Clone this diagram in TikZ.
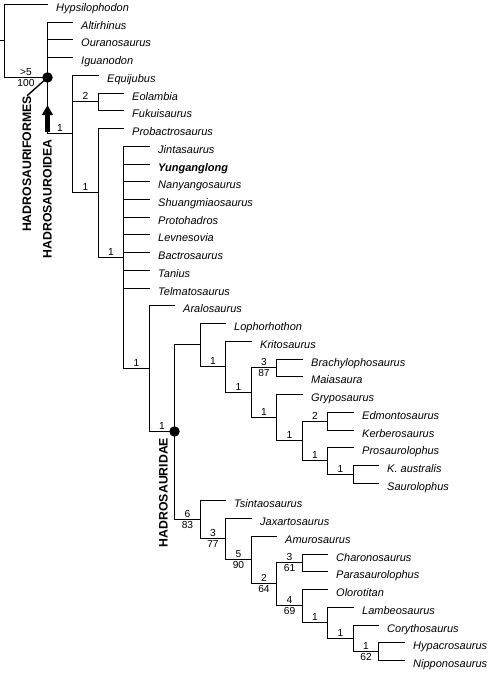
\documentclass[tikz,border=0pt]{standalone}
\usepackage{fontspec}
\setmainfont{Liberation Sans}
\usetikzlibrary{arrows.meta,calc}
\tikzset{
  br/.style={line width=1.4pt, black},
  leaf/.style={anchor=base west, inner sep=0pt, font=\fontsize{11}{13}\selectfont\itshape},
  sup/.style={anchor=base, inner sep=0pt, font=\fontsize{10.2}{12}\selectfont},
  clade/.style={rotate=90, inner sep=0pt, font=\fontsize{12.3}{14}\selectfont\bfseries},
  dot/.style={circle, fill=black, inner sep=0pt, minimum size=10.5pt}
}
\newcommand\mkleaf[4]{\coordinate (#1) at (#2,#3); \node[leaf] (#1-t) at ([xshift=8.5pt,yshift=-6.5pt]#1) {#4};}
\newcommand\bup[3]{\path ($(#1 |- #2)!0.5!(#2)$) coordinate (#2-m); \node[sup] (#2-u) at ([yshift=1.6pt]#2-m) {#3};}
\newcommand\bud[4]{\bup{#1}{#2}{#3}\node[sup] (#2-d) at ([yshift=-9.4pt]#2-m) {#4};}
\begin{document}
\begin{tikzpicture}[x=1pt,y=-1pt]
\useasboundingbox (0,0) rectangle (490,673);
% internal nodes
\coordinate (stem) at (0,40.5);
\coordinate (R) at (4.5,40.5);
\coordinate (N1) at (47.5,77.5);
\coordinate (N2) at (72.5,133.5);
\coordinate (N3) at (98.5,101.5);
\coordinate (N4) at (98.5,192.5);
\coordinate (N5) at (123.5,257.5);
\coordinate (N6) at (149.5,368.5);
\coordinate (N7) at (174.5,431.5);
\coordinate (N8) at (200.5,344.5);
\coordinate (N9) at (225.5,366.5);
\coordinate (N10) at (251.5,392.5);
\coordinate (N11) at (276.5,367.5);
\coordinate (N12) at (276.5,417.5);
\coordinate (N13) at (302.5,440.5);
\coordinate (N14) at (327.5,421.5);
\coordinate (N15) at (327.5,460.5);
\coordinate (N16) at (353.5,474.5);
\coordinate (N20) at (200.5,519.5);
\coordinate (N21) at (225.5,538.5);
\coordinate (N22) at (251.5,559.5);
\coordinate (N23) at (276.5,583.5);
\coordinate (N24) at (302.5,562.5);
\coordinate (N25) at (302.5,605.5);
\coordinate (N26) at (327.5,622.5);
\coordinate (N27) at (353.5,638.5);
\coordinate (N28) at (378.5,651.5);
% leaves
\mkleaf{hyp}{47.5}{4.5}{Hypsilophodon}
\mkleaf{alt}{72.5}{22.5}{Altirhinus}
\mkleaf{our}{72.5}{39.5}{Ouranosaurus}
\mkleaf{igu}{72.5}{57.5}{Iguanodon}
\mkleaf{equ}{98.5}{75.5}{Equijubus}
\mkleaf{eol}{123.5}{93.5}{Eolambia}
\mkleaf{fuk}{123.5}{110.5}{Fukuisaurus}
\mkleaf{pro}{123.5}{128.5}{Probactrosaurus}
\mkleaf{jin}{149.5}{146.5}{Jintasaurus}
\mkleaf{yun}{149.5}{164.5}{\textbf{Yunganglong}}
\mkleaf{nan}{149.5}{181.5}{Nanyangosaurus}
\mkleaf{shu}{149.5}{199.5}{Shuangmiaosaurus}
\mkleaf{prt}{149.5}{217.5}{Protohadros}
\mkleaf{lev}{149.5}{234.5}{Levnesovia}
\mkleaf{bac}{149.5}{252.5}{Bactrosaurus}
\mkleaf{tan}{149.5}{270.5}{Tanius}
\mkleaf{tel}{149.5}{288.5}{Telmatosaurus}
\mkleaf{ara}{174.5}{305.5}{Aralosaurus}
\mkleaf{lop}{225.5}{323.5}{Lophorhothon}
\mkleaf{kri}{251.5}{341.5}{Kritosaurus}
\mkleaf{bra}{302.5}{359.5}{Brachylophosaurus}
\mkleaf{mai}{302.5}{376.5}{Maiasaura}
\mkleaf{gry}{302.5}{394.5}{Gryposaurus}
\mkleaf{edm}{353.5}{412.5}{Edmontosaurus}
\mkleaf{ker}{353.5}{430.5}{Kerberosaurus}
\mkleaf{prs}{353.5}{447.5}{Prosaurolophus}
\mkleaf{kau}{378.5}{465.5}{K. australis}
\mkleaf{sau}{378.5}{483.5}{Saurolophus}
\mkleaf{tsi}{225.5}{500.5}{Tsintaosaurus}
\mkleaf{jax}{251.5}{518.5}{Jaxartosaurus}
\mkleaf{amu}{276.5}{536.5}{Amurosaurus}
\mkleaf{cha}{327.5}{554.5}{Charonosaurus}
\mkleaf{par}{327.5}{571.5}{Parasaurolophus}
\mkleaf{olo}{327.5}{589.5}{Olorotitan}
\mkleaf{lam}{353.5}{607.5}{Lambeosaurus}
\mkleaf{cor}{378.5}{625.5}{Corythosaurus}
\mkleaf{hyc}{404.5}{642.5}{Hypacrosaurus}
\mkleaf{nip}{404.5}{660.5}{Nipponosaurus}
% branches
\draw[br] (stem) -- (R);
\foreach \c in {hyp,N1} \draw[br] (R) |- (\c);
\foreach \c in {alt,our,igu,N2} \draw[br] (N1) |- (\c);
\foreach \c in {equ,N3,N4} \draw[br] (N2) |- (\c);
\foreach \c in {eol,fuk} \draw[br] (N3) |- (\c);
\foreach \c in {pro,N5} \draw[br] (N4) |- (\c);
\foreach \c in {jin,yun,nan,shu,prt,lev,bac,tan,tel,N6} \draw[br] (N5) |- (\c);
\foreach \c in {ara,N7} \draw[br] (N6) |- (\c);
\foreach \c in {N8,N20} \draw[br] (N7) |- (\c);
\foreach \c in {lop,N9} \draw[br] (N8) |- (\c);
\foreach \c in {kri,N10} \draw[br] (N9) |- (\c);
\foreach \c in {N11,N12} \draw[br] (N10) |- (\c);
\foreach \c in {bra,mai} \draw[br] (N11) |- (\c);
\foreach \c in {gry,N13} \draw[br] (N12) |- (\c);
\foreach \c in {N14,N15} \draw[br] (N13) |- (\c);
\foreach \c in {edm,ker} \draw[br] (N14) |- (\c);
\foreach \c in {prs,N16} \draw[br] (N15) |- (\c);
\foreach \c in {kau,sau} \draw[br] (N16) |- (\c);
\foreach \c in {tsi,N21} \draw[br] (N20) |- (\c);
\foreach \c in {jax,N22} \draw[br] (N21) |- (\c);
\foreach \c in {amu,N23} \draw[br] (N22) |- (\c);
\foreach \c in {N24,N25} \draw[br] (N23) |- (\c);
\foreach \c in {cha,par} \draw[br] (N24) |- (\c);
\foreach \c in {olo,N26} \draw[br] (N25) |- (\c);
\foreach \c in {lam,N27} \draw[br] (N26) |- (\c);
\foreach \c in {cor,N28} \draw[br] (N27) |- (\c);
\foreach \c in {hyc,nip} \draw[br] (N28) |- (\c);
% branch support labels
\bud{R}{N1}{>5}{100}
\bup{N1}{N2}{1}
\bup{N2}{N3}{2}
\bup{N2}{N4}{1}
\bup{N4}{N5}{1}
\bup{N5}{N6}{1}
\bup{N6}{N7}{1}
\bup{N8}{N9}{1}
\bup{N9}{N10}{1}
\bud{N10}{N11}{3}{87}
\bup{N10}{N12}{1}
\bup{N12}{N13}{1}
\bup{N13}{N14}{2}
\bup{N13}{N15}{1}
\bup{N15}{N16}{1}
\bud{N7}{N20}{6}{83}
\bud{N20}{N21}{3}{77}
\bud{N21}{N22}{5}{90}
\bud{N22}{N23}{2}{64}
\bud{N23}{N24}{3}{61}
\bud{N23}{N25}{4}{69}
\bup{N25}{N26}{1}
\bup{N26}{N27}{1}
\bud{N27}{N28}{1}{62}
% clade markers
\node[dot] (d1) at (N1) {};
\node[dot] (d7) at (N7) {};
\node[clade] (hf) at (27,164) {HADROSAURIFORMES};
\node[clade] (ho) at (47.5,199) {HADROSAUROIDEA};
\node[clade] (hd) at (163.5,492.5) {HADROSAURIDAE};
\draw[line width=1.4pt] (d1.center) -- (hf.east);
\coordinate (ab) at (47.5,132);
\coordinate (at) at (47.5,105);
\draw[line width=4.5pt, -{Triangle[width=10.5pt,length=10pt]}] (ab) -- (at);
\end{tikzpicture}
\end{document}
